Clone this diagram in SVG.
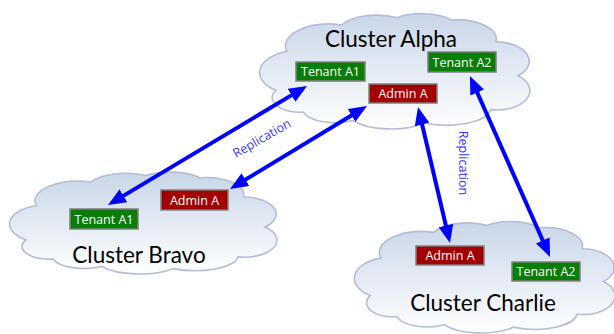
<svg xmlns="http://www.w3.org/2000/svg" width="614" height="334" viewBox="0 0 614 334">
<style>
.cloud{fill:url(#cg);stroke:#b4bcd8;stroke-width:1.6}
.title{font-family:Lato,"Open Sans",sans-serif;font-size:22.5px;fill:#000}
.box{stroke:#7f7f7f;stroke-width:1.5}
.green{fill:#087d08}
.red{fill:#a20000}
.lbl{font-family:"Open Sans",sans-serif;font-size:12.5px;fill:#fff;text-anchor:middle}
.arr{stroke:#0000ff;stroke-width:4;fill:none;marker-start:url(#ah);marker-end:url(#ah)}
.rep{font-family:"Open Sans",sans-serif;font-size:12.5px;fill:#3535ff;text-anchor:middle}
</style>
<defs>
<linearGradient id="cg" x1="0" y1="0" x2="0" y2="1">
<stop offset="0" stop-color="#c8d6e8"/>
<stop offset="1" stop-color="#ffffff"/>
</linearGradient>
<marker id="ah" viewBox="0 0 18 15" refX="8" refY="7.5" markerWidth="18" markerHeight="15" markerUnits="userSpaceOnUse" orient="auto-start-reverse">
<path d="M0,0 L18,7.5 L0,15 z" fill="#0000ff"/>
</marker>
<path id="cp" vector-effect="non-scaling-stroke" d="M8,68 A14,18 0 0 1 12,36 A16,18 0 0 1 32,14 A14,14 0 0 1 52,8 A14,14 0 0 1 72,10 A14,16 0 0 1 88,28 A12,16 0 0 1 96,56 A12,16 0 0 1 86,84 A16,14 0 0 1 62,95 A16,14 0 0 1 36,93 A12,12 0 0 1 18,86 A10,12 0 0 1 8,68 Z"/>
</defs>
<g id="cluster-alpha">
<use href="#cp" class="cloud" transform="translate(254,8) scale(2.75,1.21)"/>
<text class="title" x="391" y="47" text-anchor="middle">Cluster Alpha</text>
</g>
<g id="cluster-bravo">
<use href="#cp" class="cloud" transform="translate(4,167) scale(2.72,1.07)"/>
<text class="title" x="139" y="263" text-anchor="middle">Cluster Bravo</text>
</g>
<g id="cluster-charlie">
<use href="#cp" class="cloud" transform="translate(349,216) scale(2.65,1.17)"/>
<text class="title" x="483" y="311" text-anchor="middle">Cluster Charlie</text>
</g>
<g id="alpha-tenant-a1"><rect class="box green" x="296" y="62" width="69" height="19"/><text class="lbl" x="330.5" y="76">Tenant A1</text></g>
<g id="alpha-tenant-a2"><rect class="box green" x="428" y="52" width="68" height="20"/><text class="lbl" x="462" y="66.5">Tenant A2</text></g>
<g id="alpha-admin-a"><rect class="box red" x="369" y="84" width="68" height="19"/><text class="lbl" x="403" y="98">Admin A</text></g>
<g id="bravo-admin-a"><rect class="box red" x="161" y="190" width="67" height="20"/><text class="lbl" x="194.5" y="204.5">Admin A</text></g>
<g id="bravo-tenant-a1"><rect class="box green" x="70" y="209" width="68" height="20"/><text class="lbl" x="104" y="223.5">Tenant A1</text></g>
<g id="charlie-admin-a"><rect class="box red" x="416" y="246" width="68" height="19"/><text class="lbl" x="450" y="260">Admin A</text></g>
<g id="charlie-tenant-a2"><rect class="box green" x="512" y="262" width="68" height="19"/><text class="lbl" x="546" y="276">Tenant A2</text></g>
<g id="connectors">
<line class="arr" x1="116.6" y1="199.9" x2="298.4" y2="91.1"/>
<line class="arr" x1="238.6" y1="183.8" x2="358.4" y2="111.2"/>
<line class="arr" x1="420.3" y1="116.7" x2="447.7" y2="233.3"/>
<line class="arr" x1="474.0" y1="85.2" x2="546.0" y2="247.8"/>
<text class="rep" transform="translate(264,142) rotate(-30)">Replication</text>
<text class="rep" transform="translate(459,163) rotate(90)">Replication</text>
</g>
</svg>
